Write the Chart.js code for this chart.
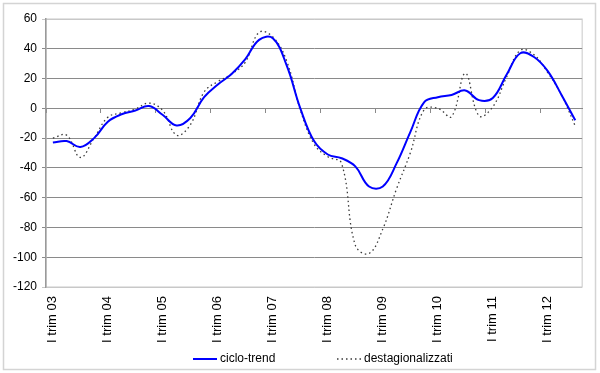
<!DOCTYPE html>
<html>
<head>
<meta charset="utf-8">
<script src="https://cdn.jsdelivr.net/npm/chart.js@4/dist/chart.umd.min.js"></script>
<style>
  html, body { margin: 0; padding: 0; background: #fff; }
  #wrap { width: 600px; height: 373px; position: relative; }
</style>
</head>
<body>
<div id="wrap"><canvas id="chart" width="600" height="373"></canvas></div>
<script>
// quarterly series, I trim 03 .. III trim 12
const years = ['03', '04', '05', '06', '07', '08', '09', '10', '11', '12'];
const quarters = ['I', 'II', 'III', 'IV'];
const seriesNames = ['ciclo-trend', 'destagionalizzati'];

const cicloTrend = [
    -23, -22, -26, -20,
    -9, -4, -1.5, 1.5,
    -4.5, -11.5, -6.5, 7.5,
    16, 23, 33, 46,
    47, 29, 0, -22,
    -31, -33.5, -39, -52.5,
    -52.5, -37, -16, 4,
    7.5, 9, 12, 5.5,
    7, 22.5, 37, 34.5,
    25, 9, -8
];

const destag = [
    -20, -18, -33, -20,
    -6, -3, -0.5, 3.5,
    -1.5, -18, -11, 11,
    18, 23, 31, 51,
    48, 32, -1, -24,
    -32.5, -37, -92, -97.5,
    -81, -54, -30, -1,
    0, -5.5, 23.5, -5,
    1, 21, 39, 36,
    24, 9, -12
];

const labels = [];
years.forEach(y => quarters.forEach(q => labels.push(q + ' trim ' + y)));
labels.length = cicloTrend.length;

const FONT = 'Arial, "Liberation Sans", sans-serif';
const legendX = [193, 337];

const framePlugin = {
    id: 'frame',
    beforeDraw(chart) {
        const ctx = chart.ctx;
        const a = chart.chartArea;
        ctx.save();
        ctx.fillStyle = '#fff';
        ctx.fillRect(0, 0, chart.width, chart.height);
        ctx.strokeStyle = '#d4d4d4';
        ctx.lineWidth = 1.5;
        ctx.strokeRect(3.5, 3.5, 592, 366);
        ctx.strokeStyle = '#c8c8c8';
        ctx.lineWidth = 1;
        ctx.strokeRect(a.left, a.top, a.right - a.left, a.bottom - a.top);
        ctx.restore();
    },
    afterDraw(chart) {
        // legend
        const ctx = chart.ctx;
        ctx.save();
        ctx.font = '12px ' + FONT;
        ctx.textBaseline = 'middle';
        ctx.fillStyle = '#000';
        chart.data.datasets.forEach((ds, i) => {
            const x = legendX[i];
            const y = 359;
            ctx.strokeStyle = ds.borderColor;
            ctx.lineWidth = ds.borderWidth;
            ctx.setLineDash(ds.borderDash || []);
            ctx.beginPath();
            ctx.moveTo(x, y);
            ctx.lineTo(x + 24, y);
            ctx.stroke();
            ctx.setLineDash([]);
            ctx.fillText(ds.label, x + 27, y);
        });
        ctx.restore();
    }
};

new Chart(document.getElementById('chart'), {
    type: 'line',
    data: {
        labels: labels,
        datasets: [{
            label: seriesNames[0],
            data: cicloTrend,
            borderColor: '#0000ff',
            borderWidth: 2,
            pointRadius: 0,
            tension: 0.4,
            fill: false
        }, {
            label: seriesNames[1],
            data: destag,
            borderColor: '#3a3a3a',
            borderWidth: 1.3,
            borderDash: [1.5, 3],
            pointRadius: 0,
            tension: 0.4,
            fill: false
        }]
    },
    options: {
        responsive: false,
        animation: false,
        layout: { padding: { top: 19, right: 10, bottom: 26, left: 0 } },
        plugins: {
            legend: { display: false },
            tooltip: { enabled: false }
        },
        scales: {
            x: {
                type: 'category',
                offset: true,
                position: { y: 0 },
                ticks: { display: false },
                grid: {
                    offset: true,
                    drawOnChartArea: false,
                    tickLength: 4,
                    color: ctx => (ctx.index % 4 === 0 ? '#8a8a8a' : 'transparent')
                },
                border: { color: '#8a8a8a', width: 1 }
            },
            x2: {
                type: 'category',
                offset: true,
                position: 'bottom',
                grid: { display: false, drawTicks: false },
                border: { display: false },
                ticks: {
                    autoSkip: false,
                    minRotation: 90,
                    maxRotation: 90,
                    padding: 9,
                    color: '#000',
                    font: { family: FONT, size: 13 },
                    callback: (v, i) => (i % 4 === 0 ? labels[i] : '')
                },
                afterFit: s => { s.height = 60; }
            },
            y: {
                min: -120,
                max: 60,
                ticks: {
                    stepSize: 20,
                    padding: 5,
                    color: '#000',
                    font: { family: FONT, size: 12 }
                },
                grid: {
                    tickLength: 4,
                    color: ctx => (ctx.tick && (ctx.tick.value === 60 || ctx.tick.value === -120) ? '#c8c8c8' : '#8a8a8a')
                },
                border: { color: '#9a9a9a', width: 1.5 },
                afterFit: s => { s.width = 46; }
            }
        }
    },
    plugins: [framePlugin]
});
</script>
</body>
</html>
